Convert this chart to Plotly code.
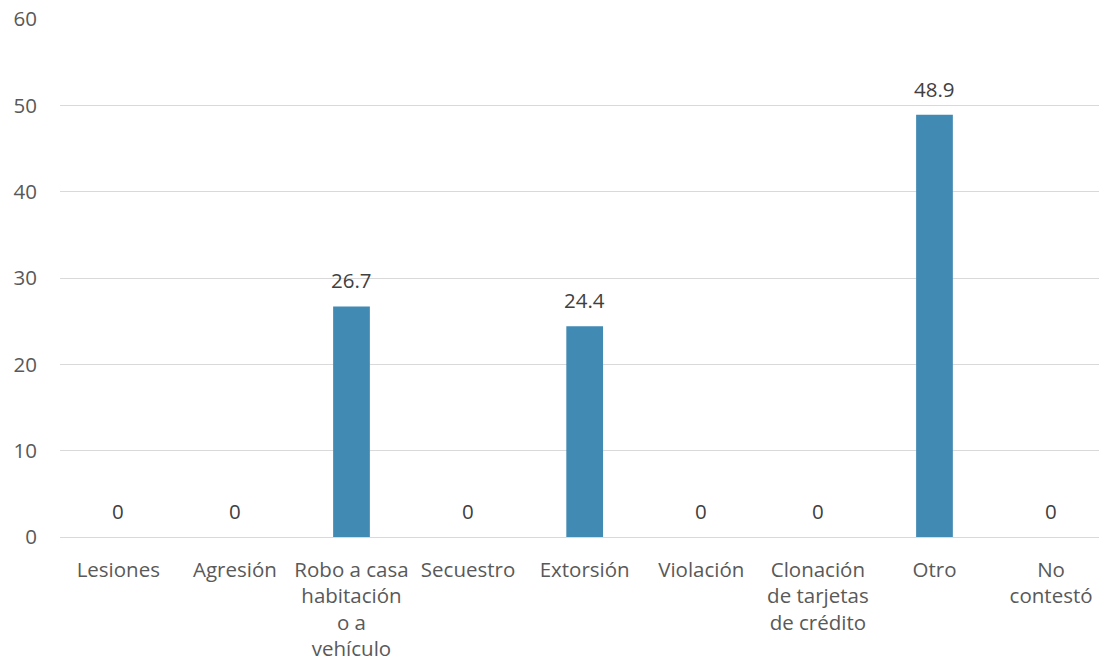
import plotly.graph_objects as go

categories = ["Lesiones", "Agresión", "Robo a casa<br>habitación<br>o a<br>vehículo", "Secuestro",
              "Extorsión", "Violación", "Clonación<br>de tarjetas<br>de crédito", "Otro", "No<br>contestó"]
values = [0, 0, 26.7, 0, 24.4, 0, 0, 48.9, 0]
labels = ["0", "0", "26.7", "0", "24.4", "0", "0", "48.9", "0"]
y_ticks = [0, 10, 20, 30, 40, 50, 60]

FONT = "Open Sans"
FSIZE = 20.5
BAR_COLOR = "#418AB3"

fig = go.Figure()
fig.add_trace(go.Bar(x=categories, y=values, marker=dict(color=BAR_COLOR, line=dict(width=0)),
                     hoverinfo="skip"))

for c, v, t in zip(categories, values, labels):
    fig.add_annotation(x=c, y=v, text=t, showarrow=False, yanchor="bottom", yshift=10,
                       font=dict(family=FONT, size=FSIZE, color="#404040"))

fig.update_layout(
    width=1099, height=666, autosize=False,
    margin=dict(l=60, r=0, t=19, b=129, autoexpand=False),
    plot_bgcolor="white", paper_bgcolor="white",
    bargap=0.685, showlegend=False,
    font=dict(family=FONT, size=FSIZE, color="#595959"),
)
fig.update_xaxes(range=[-0.5, 8.411], showgrid=False, showline=False, ticks="", automargin=False,
                 tickfont=dict(family=FONT, size=FSIZE, color="#595959"), ticklabelstandoff=18)
fig.update_yaxes(range=[0, 60], tickvals=y_ticks, showgrid=True, gridcolor="#D9D9D9", gridwidth=1.3,
                 zeroline=True, zerolinecolor="#D9D9D9", zerolinewidth=1.3, showline=False, ticks="",
                 automargin=False,
                 tickfont=dict(family=FONT, size=FSIZE, color="#595959"), ticklabelstandoff=22)

fig.write_html("out.html", config={"displayModeBar": False},
               post_script="document.body.style.margin='0';document.body.style.overflow='hidden';")
